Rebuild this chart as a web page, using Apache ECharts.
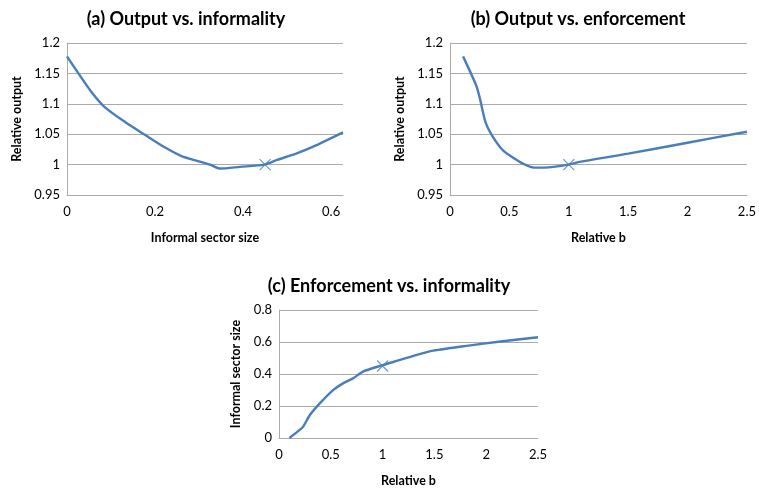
<!DOCTYPE html>
<html>
<head>
<meta charset="utf-8">
<script src="https://cdn.jsdelivr.net/npm/echarts@6/dist/echarts.min.js"></script>
<style>
html,body{margin:0;padding:0;background:#fff;}
#chart{width:759px;height:489px;}
</style>
</head>
<body>
<div id="chart"></div>
<script>
// (a) Output vs. informality
var aX = [0, 0.026, 0.056, 0.085, 0.132, 0.177, 0.223, 0.26, 0.302, 0.325, 0.348, 0.393, 0.4485, 0.477, 0.522, 0.567, 0.627];
var aY = [1.178, 1.15, 1.119, 1.095, 1.070, 1.049, 1.028, 1.014, 1.005, 1.0, 0.9935, 0.9963, 1.0, 1.0077, 1.0185, 1.032, 1.053];
// (b) Output vs. enforcement
var bX = [0.11, 0.22, 0.249, 0.299, 0.36, 0.443, 0.526, 0.609, 0.706, 0.803, 1.0, 1.08, 1.5, 2.0, 2.5];
var bY = [1.178, 1.1305, 1.111, 1.070, 1.046, 1.024, 1.012, 1.002, 0.995, 0.995, 1.0, 1.004, 1.018, 1.036, 1.054];
// (c) Enforcement vs. informality
var cX = [0.1, 0.203, 0.235, 0.30, 0.396, 0.525, 0.622, 0.718, 0.815, 1.0, 1.17, 1.33, 1.49, 1.81, 2.14, 2.5];
var cY = [0, 0.052, 0.073, 0.145, 0.218, 0.301, 0.343, 0.374, 0.416, 0.455, 0.488, 0.52, 0.546, 0.576, 0.603, 0.63];
// Baseline markers
var markA = [0.45, 1.0];
var markB = [1.0, 1.0];
var markC = [1.0, 0.45];

var titles = ['(a) Output vs. informality', '(b) Output vs. enforcement', '(c) Enforcement vs. informality'];
var xNames = ['Informal sector size', 'Relative b', 'Relative b'];
var yNames = ['Relative output', 'Relative output', 'Informal sector size'];

function pairs(xs, ys){ return xs.map(function(x,i){ return [x, ys[i]]; }); }

var FONT = 'Lato';
var LINE = '#4a7ebb';
var GRIDC = '#ababab';

function xAxis(idx, max, interval, extra){
  var o = {
    type: 'value', gridIndex: idx, min: 0, max: max, interval: interval,
    name: xNames[idx], nameLocation: 'middle', nameGap: 36,
    nameTextStyle: {fontFamily: FONT, fontWeight: 'bold', fontSize: 12.5, color: '#000'},
    axisLine: {show: true, lineStyle: {color: GRIDC}},
    axisTick: {show: false},
    splitLine: {show: false},
    axisLabel: {fontFamily: FONT, fontSize: 13, color: '#000', margin: 10}
  };
  if (extra) for (var k in extra) o.axisLabel[k] = extra[k];
  return o;
}
function yAxis(idx, min, max, interval, gap){
  return {
    type: 'value', gridIndex: idx, min: min, max: max, interval: interval,
    name: yNames[idx], nameLocation: 'middle', nameGap: gap,
    nameTextStyle: {fontFamily: FONT, fontWeight: 'bold', fontSize: 12.5, color: '#000'},
    axisLine: {show: true, lineStyle: {color: GRIDC}},
    axisTick: {show: false},
    splitLine: {show: true, lineStyle: {color: GRIDC}},
    axisLabel: {fontFamily: FONT, fontSize: 13, color: '#000', margin: 7}
  };
}
function lineSeries(idx, data){
  return {type: 'line', xAxisIndex: idx, yAxisIndex: idx, data: data, smooth: 0.25,
    showSymbol: false, symbol: 'none', lineStyle: {color: LINE, width: 2.4}, silent: true};
}
function markSeries(idx, pt){
  return {type: 'scatter', xAxisIndex: idx, yAxisIndex: idx, data: [pt],
    symbol: 'path://M0,0L10,10M10,0L0,10', symbolSize: 11,
    itemStyle: {color: 'none', borderColor: LINE, borderWidth: 1.2}, silent: true};
}

var chart = echarts.init(document.getElementById('chart'), null, {renderer: 'canvas'});
chart.setOption({
  animation: false,
  backgroundColor: '#fff',
  title: [
    {text: titles[0], left: 181, top: 5, textAlign: 'center', textStyle: {fontFamily: FONT, fontWeight: 'bold', fontSize: 18, color: '#000'}},
    {text: titles[1], left: 573, top: 5, textAlign: 'center', textStyle: {fontFamily: FONT, fontWeight: 'bold', fontSize: 18, color: '#000'}},
    {text: titles[2], left: 384, top: 272, textAlign: 'center', textStyle: {fontFamily: FONT, fontWeight: 'bold', fontSize: 18, color: '#000'}}
  ],
  grid: [
    {left: 67, top: 43, width: 276, height: 152},
    {left: 450, top: 43, width: 301, height: 152},
    {left: 279, top: 310, width: 259, height: 128}
  ],
  xAxis: [
    xAxis(0, 0.627, 0.2, {showMaxLabel: false}),
    xAxis(1, 2.5, 0.5),
    xAxis(2, 2.5, 0.5)
  ],
  yAxis: [
    yAxis(0, 0.95, 1.2, 0.05, 44),
    yAxis(1, 0.95, 1.2, 0.05, 44),
    yAxis(2, 0, 0.8, 0.2, 37)
  ],
  series: [
    lineSeries(0, pairs(aX, aY)),
    lineSeries(1, pairs(bX, bY)),
    lineSeries(2, pairs(cX, cY)),
    markSeries(0, markA),
    markSeries(1, markB),
    markSeries(2, markC)
  ]
});
</script>
</body>
</html>
